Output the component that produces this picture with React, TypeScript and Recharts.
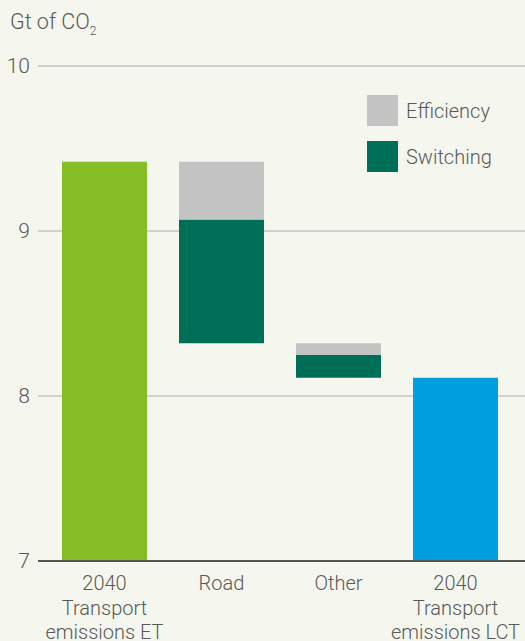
import { BarChart, Bar, XAxis, YAxis, CartesianGrid, Cell } from 'recharts'

const categories = ['2040 Transport emissions ET', 'Road', 'Other', '2040 Transport emissions LCT']
const tickLines: Record<string, string[]> = {
  '2040 Transport emissions ET': ['2040', 'Transport', 'emissions ET'],
  Road: ['Road'],
  Other: ['Other'],
  '2040 Transport emissions LCT': ['2040', 'Transport', 'emissions LCT'],
}

// Gt of CO2
const totalET = 9.42
const totalLCT = 8.11
const efficiency = [0.35, 0.07] // Road, Other
const switching = [0.75, 0.14] // Road, Other
const yTicks = [7, 8, 9, 10]

const TEXT = '#585858'
const FONT = 'Roboto, sans-serif'
const WEIGHT = 300

const COLORS = {
  et: '#86bc25',
  lct: '#009fe0',
  efficiency: '#c3c3c3',
  switching: '#006f57',
}

const legendItems = [
  { label: 'Efficiency', color: COLORS.efficiency },
  { label: 'Switching', color: COLORS.switching },
]

// waterfall rows: transparent base + visible segments
const roadBase = totalET - efficiency[0] - switching[0]
const otherBase = roadBase - efficiency[1] - switching[1]
const data = [
  { name: categories[0], base: 0, total: totalET, switching: 0, efficiency: 0 },
  { name: categories[1], base: roadBase, total: 0, switching: switching[0], efficiency: efficiency[0] },
  { name: categories[2], base: otherBase, total: 0, switching: switching[1], efficiency: efficiency[1] },
  { name: categories[3], base: 0, total: totalLCT, switching: 0, efficiency: 0 },
]
const totalColors = [COLORS.et, 'none', 'none', COLORS.lct]

function XTick(props: any) {
  const { x, y, payload } = props
  const lines = tickLines[payload.value] ?? [payload.value]
  return (
    <text x={x} y={y} textAnchor="middle" fill={TEXT} fontSize={20} fontWeight={WEIGHT} fontFamily={FONT}>
      {lines.map((l, i) => (
        <tspan key={i} x={x} dy={i === 0 ? 21 : 24.5}>{l}</tspan>
      ))}
    </text>
  )
}

export default function App() {
  return (
    <div style={{ position: 'absolute', top: 0, left: 0, width: 525, height: 641, background: '#f5f7ee', overflow: 'hidden' }}>
      <div style={{ position: 'absolute', left: 10, top: 10, fontFamily: FONT, fontWeight: WEIGHT, fontSize: 21.5, color: TEXT, lineHeight: '24px' }}>
        Gt of CO<span style={{ fontSize: 12, position: 'relative', top: 6 }}>2</span>
      </div>
      <div style={{ position: 'absolute', left: 367, top: 95, fontFamily: FONT, fontWeight: WEIGHT, fontSize: 20, color: TEXT }}>
        {legendItems.map((it) => (
          <div key={it.label} style={{ display: 'flex', alignItems: 'center', height: 31, marginBottom: 15 }}>
            <div style={{ width: 31, height: 31, background: it.color, marginRight: 8 }} />
            <span>{it.label}</span>
          </div>
        ))}
      </div>
      <BarChart
        width={525}
        height={641}
        data={data}
        margin={{ top: 66, right: 0, bottom: 0, left: 0 }}
        barSize={85}
      >
        <CartesianGrid horizontal vertical={false} stroke="#c4c4c4" strokeWidth={1.5} />
        <XAxis
          dataKey="name"
          height={80}
          tick={<XTick />}
          tickLine={false}
          axisLine={{ stroke: '#555', strokeWidth: 2 }}
          padding={{ left: 8, right: 11 }}
          interval={0}
        />
        <YAxis
          domain={[7, 10]}
          ticks={yTicks}
          allowDataOverflow
          width={38}
          tickLine={false}
          axisLine={false}
          tick={{ fill: TEXT, fontSize: 21, fontWeight: WEIGHT, fontFamily: FONT }}
        />
        <Bar dataKey="base" stackId="a" fill="transparent" isAnimationActive={false} />
        <Bar dataKey="total" stackId="a" isAnimationActive={false}>
          {data.map((_, i) => (
            <Cell key={i} fill={totalColors[i]} />
          ))}
        </Bar>
        <Bar dataKey="switching" stackId="a" fill={COLORS.switching} isAnimationActive={false} />
        <Bar dataKey="efficiency" stackId="a" fill={COLORS.efficiency} isAnimationActive={false} />
      </BarChart>
    </div>
  )
}
